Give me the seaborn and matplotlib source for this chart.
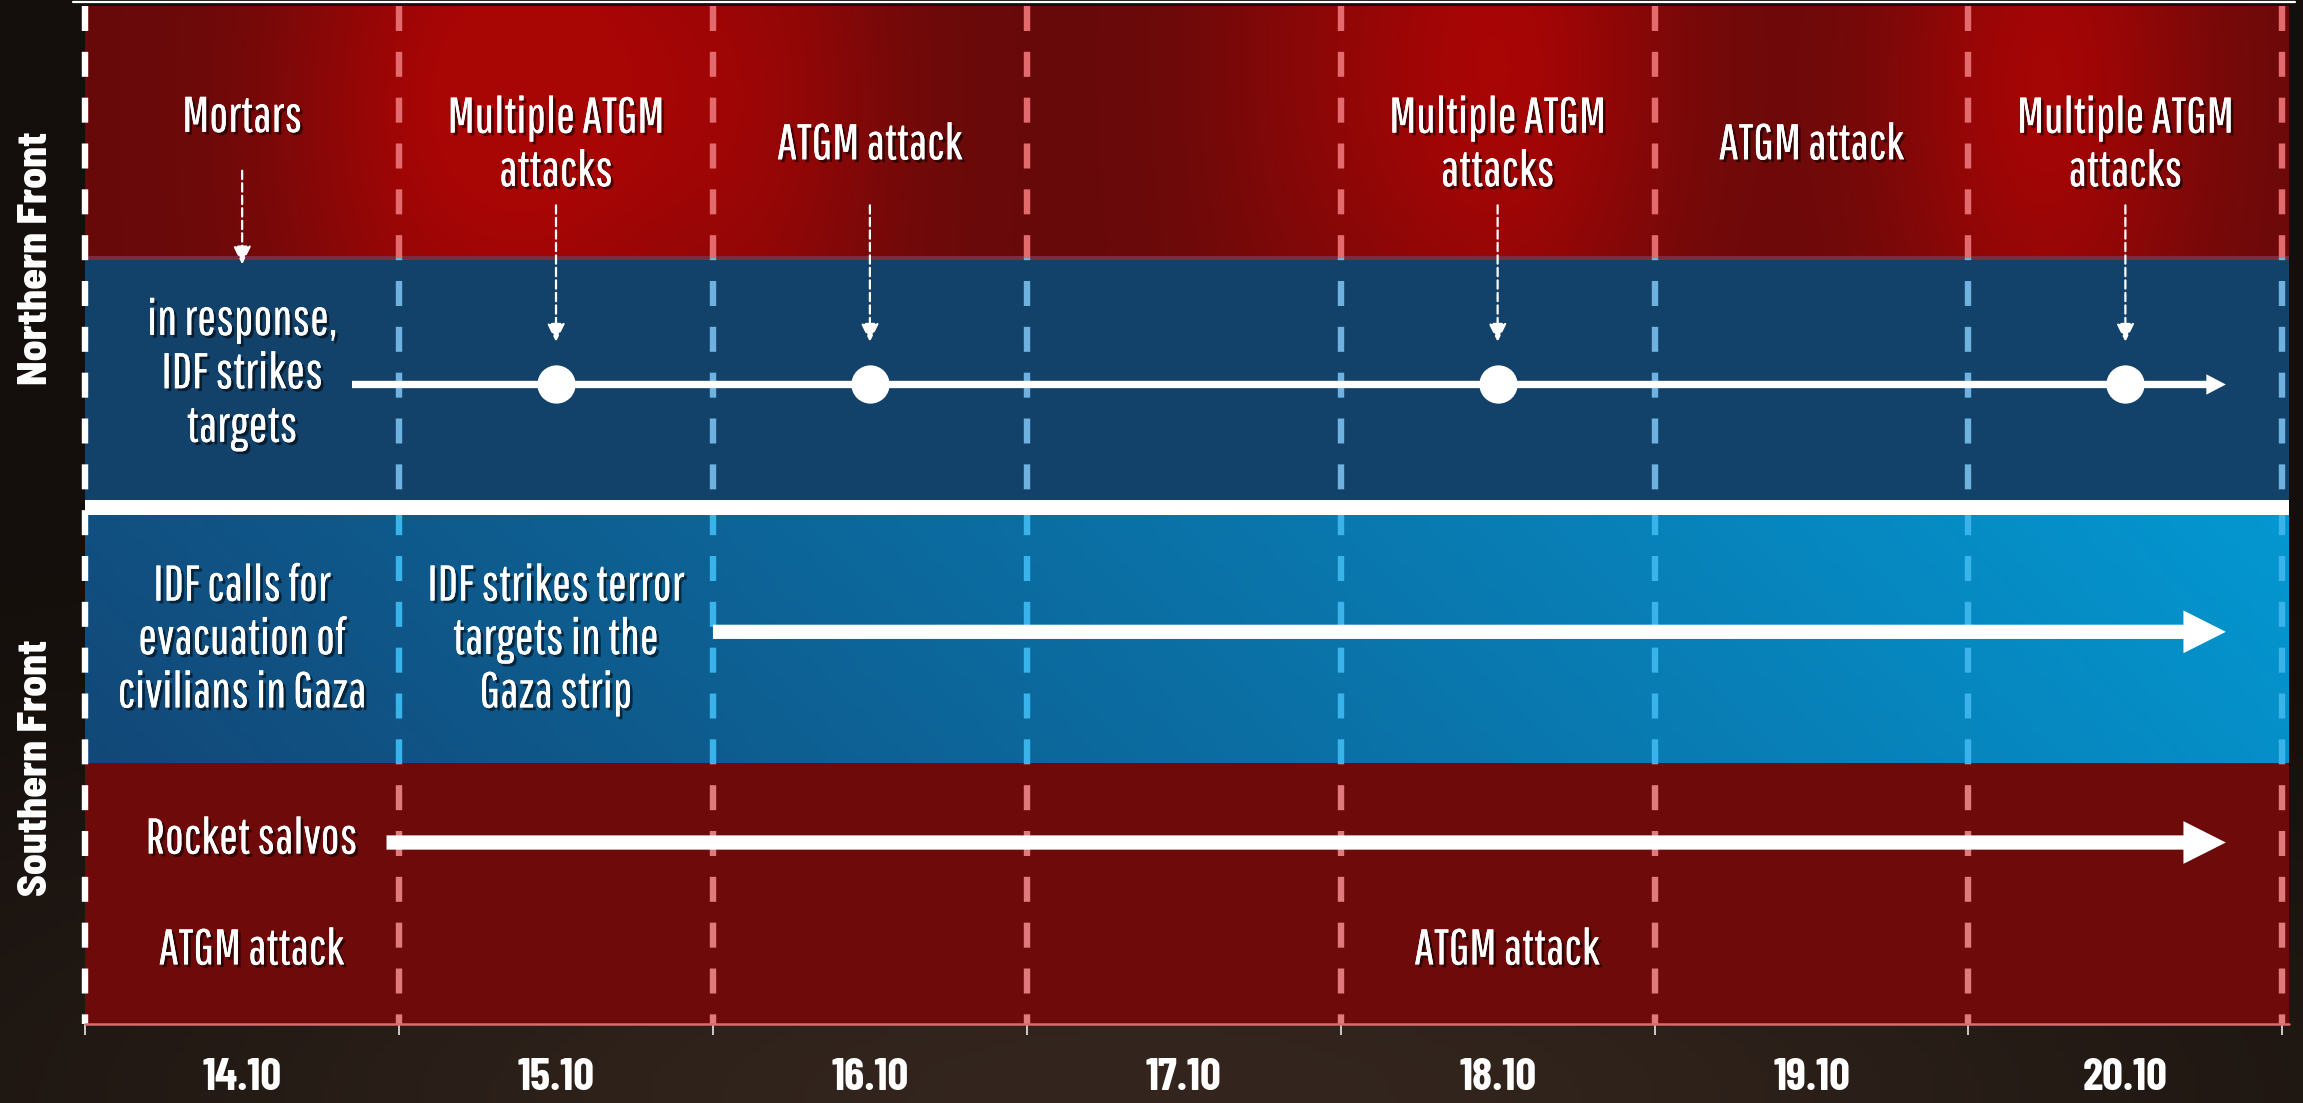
import numpy as np
import pandas as pd
import matplotlib.pyplot as plt
import matplotlib.patheffects as pe
from matplotlib.colors import to_rgb
from matplotlib.patches import Rectangle
import seaborn as sns

sns.set_theme(style='dark')
plt.rcParams['font.family'] = ['Pathway Gothic One', 'DejaVu Sans']
plt.rcParams['axes.unicode_minus'] = False
plt.rcParams['lines.scale_dashes'] = False

# ---- data ----
days = ['14.10', '15.10', '16.10', '17.10', '18.10', '19.10', '20.10']

north_attack_day = [0, 1, 2, 4, 5, 6]
north_attack_text = ['Mortars', 'Multiple ATGM\nattacks', 'ATGM attack',
                     'Multiple ATGM\nattacks', 'ATGM attack', 'Multiple ATGM\nattacks']
north_linked_day = [0, 1, 2, 4, 6]      # attacks with an arrow to the response row
north_strike_day = [1, 2, 4, 6]         # IDF strikes (dots)
north_strike_span = (0.85, 6.82)

south_blue_day = [0, 1]
south_blue_text = ['IDF calls for\nevacuation of\ncivilians in Gaza',
                   'IDF strikes terror\ntargets in the\nGaza strip']
south_strike_span = (2.0, 6.82)

rocket_span = (0.96, 6.82)
south_atgm_day = [0, 4]

# ---- layout (y in 0..100) ----
XMAX = 7.02
S_RED = (0, 25.6)
S_BLUE = (25.6, 50.0)
SEP = (50.0, 51.5)
N_BLUE = (51.5, 75.2)
N_RED = (75.2, 100)
TICK_FONT = ['Barlow Condensed', 'DejaVu Sans']
ROW_FONT = ['Barlow Semi Condensed', 'DejaVu Sans']

fig = plt.figure(figsize=(23.03, 11.03), dpi=100)
fig.patch.set_facecolor('#15100d')

# background glow
bg = fig.add_axes([0, 0, 1, 1], zorder=-5)
gx, gy = np.meshgrid(np.linspace(0, 1, 300), np.linspace(0, 1, 150))
g = np.exp(-((gx - 0.5) / 0.5) ** 2 - ((gy - 0.0) / 0.3) ** 2)
c0, c1 = np.array(to_rgb('#140f0c')), np.array(to_rgb('#34261e'))
bg.imshow(c0 + g[..., None] * (c1 - c0), extent=(0, 1, 0, 1), origin='lower', aspect='auto')
bg.set_axis_off()

ax = fig.add_axes([0.0370, 0.0719, (XMAX * 213.7) / 1568, 0.9228])
ax.set_facecolor('none')

# north red band with glows
X, Y = np.meshgrid(np.linspace(0, XMAX, 700), np.linspace(N_RED[0], N_RED[1], 80))
glow = np.zeros_like(X)
for cx, cy, amp, sx in [(1.5, 92, 1.0, 0.6), (2.2, 90, 0.5, 0.4), (4.5, 94, 1.0, 0.55),
                        (6.25, 92, 0.95, 0.5), (0.95, 88, 0.4, 0.45), (3.85, 95, 0.25, 0.35)]:
    glow += amp * np.exp(-((X - cx) / sx) ** 2 - ((Y - cy) / 34) ** 2)
glow = np.clip(glow, 0, 1)
dark, bright = np.array(to_rgb('#680a0a')), np.array(to_rgb('#a80505'))
ax.imshow(dark + glow[..., None] * (bright - dark), extent=(0, XMAX, *N_RED),
          origin='lower', aspect='auto', zorder=0)

# south blue band gradient
X, Y = np.meshgrid(np.linspace(0, 1, 300), np.linspace(0, 1, 40))
t = np.clip(X * 0.9 + Y * 0.1, 0, 1)
left, right = np.array(to_rgb('#124878')), np.array(to_rgb('#0497d1'))
ax.imshow(left + t[..., None] * (right - left), extent=(0, XMAX, *S_BLUE),
          origin='lower', aspect='auto', zorder=0)

ax.axhspan(*N_BLUE, color='#12416a', lw=0, zorder=0)
ax.axhspan(*S_RED, color='#6e0a0a', lw=0, zorder=0)
ax.axhspan(*SEP, color='white', lw=0, zorder=3)
ax.axhline(N_RED[0], color='#7c2c42', lw=3, zorder=1)

# dashed day boundaries, coloured per band
for k in range(1, 8):
    for (y0, y1), col in [(N_RED, '#e36b6e'), (N_BLUE, '#6fb1df'),
                          (S_BLUE, '#3ab3ea'), (S_RED, '#e07a7c')]:
        ln, = ax.plot([k, k], [100, 0], color=col, lw=4.6, dashes=(18, 15), zorder=1,
                      solid_capstyle='butt', dash_capstyle='butt')
        ln.set_clip_path(Rectangle((0, y0), XMAX, y1 - y0, transform=ax.transData))

# left dashed spine, top / bottom lines
ax.plot([0, 0], [100, 0], color='white', lw=4.6, dashes=(18, 15), clip_on=False, zorder=4)
ax.plot([-0.04, XMAX + 0.02], [100.4, 100.4], color='white', lw=1.6, clip_on=False, zorder=4)
ax.plot([0, XMAX], [0, 0], color='#d86c6e', lw=1.8, clip_on=False, zorder=4)

shadow = [pe.withSimplePatchShadow(offset=(2, -2), shadow_rgbFace='black', alpha=0.55), pe.Normal()]
txt = dict(color='white', fontsize=36, ha='center', va='center', linespacing=1.2,
           path_effects=shadow, zorder=6)

# northern front
for d, s in zip(north_attack_day, north_attack_text):
    ax.text(d + 0.5, 89.0 if d == 0 else 86.3, s, **txt)
for d in north_linked_day:
    y0, y1 = (83.8, 74.6) if d == 0 else (80.4, 67.0)
    ax.annotate('', xy=(d + 0.5, y1), xytext=(d + 0.5, y0),
                arrowprops=dict(arrowstyle='-|>,head_length=0.55,head_width=0.27', color='white',
                                lw=1.6, linestyle=(0, (6, 3)), mutation_scale=20,
                                shrinkA=0, shrinkB=0), zorder=5)
ax.text(0.5, 63.8, 'in response,\nIDF strikes\ntargets', **txt)
ax.arrow(north_strike_span[0], 62.8, north_strike_span[1] - north_strike_span[0], 0,
         width=0.72, head_width=2.0, head_length=0.062, length_includes_head=True,
         color='white', lw=0, zorder=4)
strikes = pd.DataFrame({'x': [d + 0.5 for d in north_strike_day], 'y': 62.8})
sns.scatterplot(data=strikes, x='x', y='y', s=760, color='white', edgecolor='white',
                linewidth=0, ax=ax, zorder=5, legend=False)

# southern front
for d, s in zip(south_blue_day, south_blue_text):
    ax.text(d + 0.5, 37.7, s, **txt)
for (a, b), yy in [(south_strike_span, 38.5), (rocket_span, 17.8)]:
    ax.arrow(a, yy, b - a, 0, width=1.4, head_width=4.2, head_length=0.135,
             length_includes_head=True, color='white', lw=0, zorder=4)
ax.text(0.53, 18.1, 'Rocket salvos', **txt)
for d in south_atgm_day:
    ax.text(d + 0.53, 7.2, 'ATGM attack', **txt)

# row labels
for yc, s in [(N_RED[0], 'Northern Front'), (S_RED[1] - 0.5, 'Southern Front')]:
    ax.text(-0.158, yc, s, rotation=90, ha='center', va='center', color='white',
            fontsize=30, fontweight='heavy', family=ROW_FONT, clip_on=False)

ax.set_xlim(0, XMAX)
ax.set_ylim(0, 100)
ax.set_xticks([d + 0.5 for d in range(len(days))])
ax.set_xticklabels(days, family=TICK_FONT, fontweight='bold')
ax.set_xticks(range(len(days) + 1), minor=True)
ax.set_yticks([])
ax.tick_params(which='major', length=0, pad=25, labelsize=33, labelcolor='white', bottom=True)
ax.tick_params(which='minor', length=8, width=1.3, color='#d8d8d8', bottom=True)
ax.set_xlabel('')
ax.set_ylabel('')
ax.grid(False)
for sp in ax.spines.values():
    sp.set_visible(False)

fig.savefig('out.png', dpi=100, facecolor=fig.get_facecolor())
